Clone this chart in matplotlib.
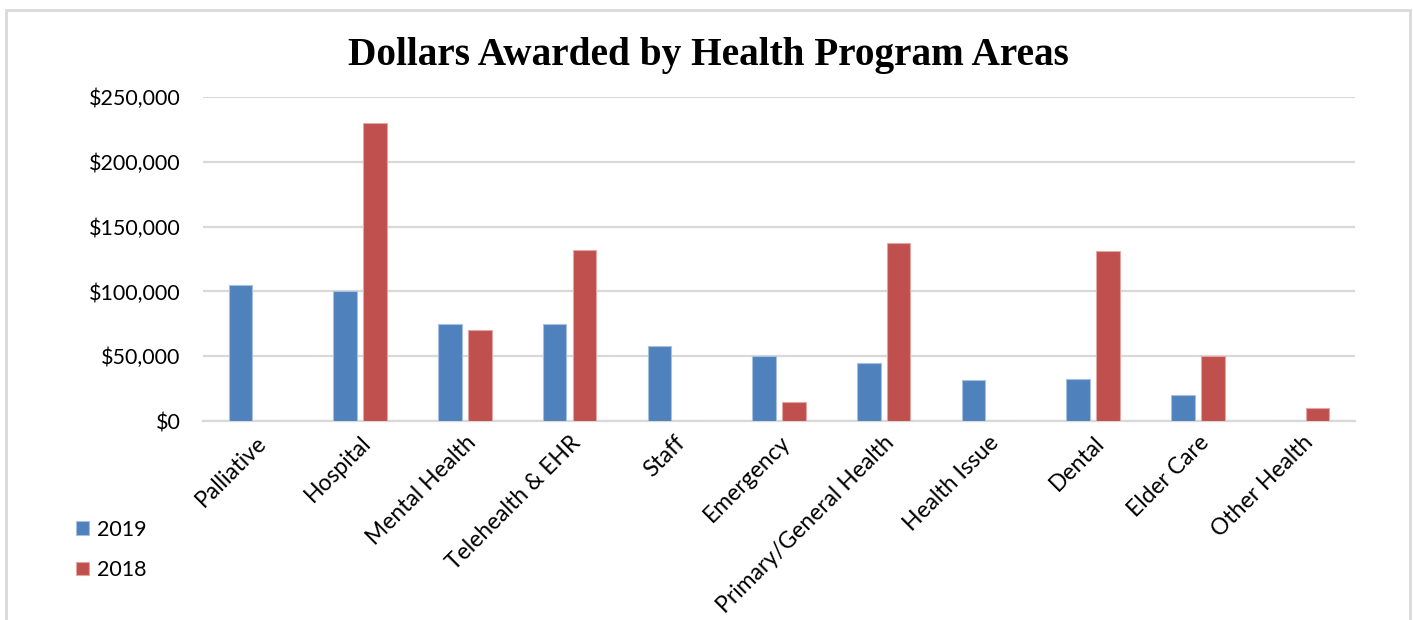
import numpy as np
import matplotlib.pyplot as plt
from matplotlib.patches import Rectangle
from matplotlib.ticker import FuncFormatter

categories = ["Palliative", "Hospital", "Mental Health", "Telehealth & EHR", "Staff",
              "Emergency", "Primary/General Health", "Health Issue", "Dental",
              "Elder Care", "Other Health"]
vals_2019 = [105000, 100000, 75000, 75000, 58000, 50000, 45000, 32000, 32500, 20000, 0]
vals_2018 = [0, 230000, 70000, 132000, 0, 15000, 137000, 0, 131000, 50000, 10000]

blue = "#4F81BD"
red = "#C0504D"
grid = "#D9D9D9"
lab_font = ["Lato", "DejaVu Sans"]

fig = plt.figure(figsize=(14.13, 6.2), dpi=100)
ax = fig.add_axes([203/1413, 199/620, 1152/1413, 324/620])

x = np.arange(len(categories))
w = 0.225
off = 0.143
ax.bar(x - off, vals_2019, w, color=blue, edgecolor="#A7C0DF", linewidth=0.8, label="2019", zorder=3)
ax.bar(x + off, vals_2018, w, color=red, edgecolor="#E3A6A4", linewidth=0.8, label="2018", zorder=3)

ax.set_xlim(-0.5, len(categories) - 0.5)
ax.set_ylim(0, 250000)
ax.set_yticks(np.arange(0, 250001, 50000))
ax.yaxis.set_major_formatter(FuncFormatter(lambda v, p: "${:,.0f}".format(v)))
ax.grid(axis="y", color=grid, linewidth=1.6, zorder=0)
for s in ["top", "right", "left"]:
    ax.spines[s].set_visible(False)
ax.spines["bottom"].set_color(grid)
ax.spines["bottom"].set_linewidth(1.6)
ax.tick_params(length=0)
ax.tick_params(axis="y", pad=16)
for t in ax.get_yticklabels():
    t.set_fontfamily(lab_font)
    t.set_fontsize(15.5)

ax.set_xticks(x)
ax.set_xticklabels(categories, rotation=45, ha="right", va="top", rotation_mode="anchor",
                   fontsize=16.5, family=lab_font)
ax.tick_params(axis="x", pad=8)

fig.text(708/1413, 1 - 55/620, "Dollars Awarded by Health Program Areas", ha="center", va="center",
         fontsize=28.3, fontweight="bold", family=["Liberation Serif", "DejaVu Serif"])

leg = fig.legend(loc="upper left", bbox_to_anchor=(67/1413, 1 - 511/620), frameon=False,
                 prop={"family": lab_font, "size": 15.5}, handlelength=0.6, handleheight=0.6,
                 handletextpad=0.4, labelspacing=0.95, borderaxespad=0)

fig.patches.append(Rectangle((6/1413, -0.1), 1404/1413, 1.1 - 10/620, transform=fig.transFigure,
                             fill=False, edgecolor="#D9D9D9", linewidth=2))

fig.savefig("out.png", dpi=100)
